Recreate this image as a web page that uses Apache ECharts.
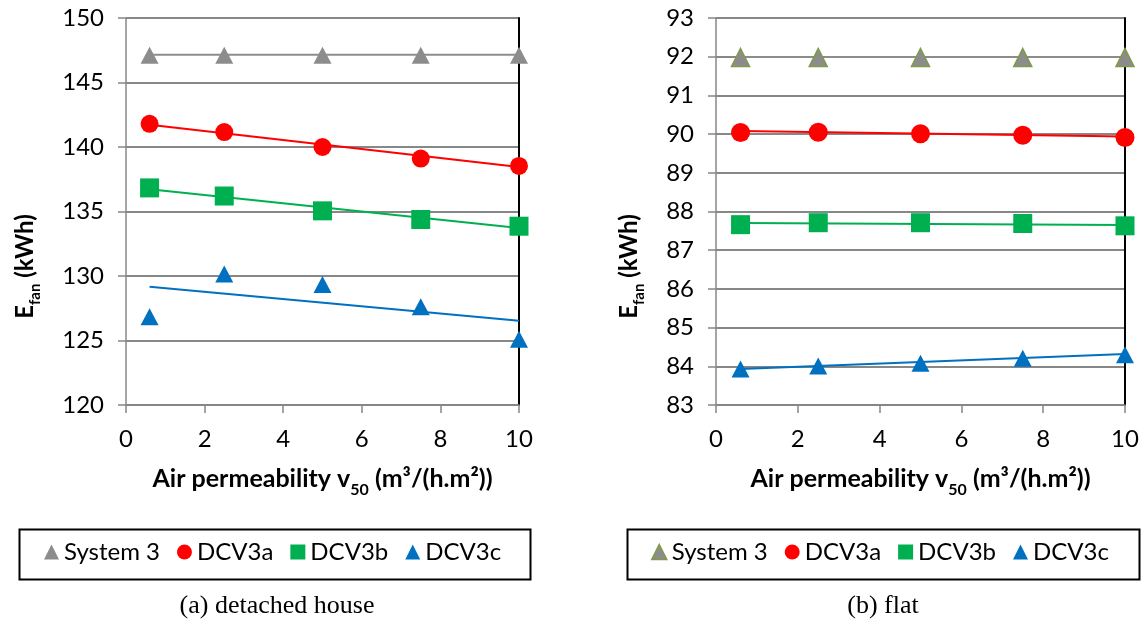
<!DOCTYPE html>
<html><head><meta charset="utf-8">
<script src="https://cdn.jsdelivr.net/npm/echarts@6/dist/echarts.min.js"></script>
<style>html,body{margin:0;padding:0;background:#fff}#c{width:1144px;height:628px}</style>
</head><body><div id="c"></div>
<script>
// ---- data ----
const xValues = [0.6, 2.5, 5, 7.5, 10];
const trendX = [0.6, 10];
const seriesNames = ['System 3', 'DCV3a', 'DCV3b', 'DCV3c'];
const xTickLabels = ['0', '2', '4', '6', '8', '10'];
const houseYTicks = ['120', '125', '130', '135', '140', '145', '150'];
const flatYTicks = ['83', '84', '85', '86', '87', '88', '89', '90', '91', '92', '93'];

// (a) detached house
const houseSystem3 = [147.12, 147.12, 147.12, 147.12, 147.12];
const houseDCV3a = [141.80, 141.16, 140.00, 139.10, 138.53];
const houseDCV3b = [136.83, 136.20, 135.05, 134.38, 133.86];
const houseDCV3c = [126.84, 130.15, 129.35, 127.62, 125.09];
const houseTrendSystem3 = [147.15, 147.15];
const houseTrendDCV3a = [141.73, 138.45];
const houseTrendDCV3b = [136.73, 133.73];
const houseTrendDCV3c = [129.17, 126.53];

// (b) flat
const flatSystem3 = [91.98, 91.98, 91.98, 91.98, 91.98];
const flatDCV3a = [90.04, 90.05, 90.01, 89.97, 89.91];
const flatDCV3b = [87.66, 87.71, 87.71, 87.69, 87.63];
const flatDCV3c = [83.93, 84.01, 84.08, 84.21, 84.30];
const flatTrendSystem3 = [91.99, 91.99];
const flatTrendDCV3a = [90.08, 89.94];
const flatTrendDCV3b = [87.70, 87.65];
const flatTrendDCV3c = [83.93, 84.32];

// ---- style ----
const FONT = 'Lato';
const GRAY = '#878787';
const C_SYS = '#8c8c8c', C_A = '#ff0000', C_B = '#00b050', C_C = '#0070c0';
const OLIVE = '#7f9a48';

const pts = arr => arr.map((v, i) => [xValues[i], v]);
const tr = arr => arr.map((v, i) => [trendX[i], v]);

function xAxisFor(gi) {
  return {
    type: 'value', gridIndex: gi, min: 0, max: 10, interval: 2,
    axisLine: {show: true, lineStyle: {color: GRAY, width: 1.5}},
    axisTick: {show: true, length: 8, lineStyle: {color: GRAY, width: 1.5}},
    splitLine: {show: false},
    axisLabel: {fontFamily: FONT, fontSize: 24, color: '#000', margin: 22,
      formatter: v => xTickLabels[Math.round(v / 2)]},
    name: '{b|Air permeability v}{s|50}{b| (m³/(h.m²))}',
    nameLocation: 'middle', nameGap: 61,
    nameTextStyle: {rich: {
      b: {fontFamily: FONT, fontSize: 25, fontWeight: 'bold', color: '#000', lineHeight: 30, verticalAlign: 'top'},
      s: {fontFamily: FONT, fontSize: 16, fontWeight: 'bold', color: '#000', lineHeight: 17, padding: [16, 0, 0, 0], verticalAlign: 'top'}
    }}
  };
}
function yAxisFor(gi, min, max, interval, ticks, nameGap) {
  return {
    type: 'value', gridIndex: gi, min, max, interval,
    axisLine: {show: true, lineStyle: {color: GRAY, width: 1.5}},
    axisTick: {show: true, length: 8, lineStyle: {color: GRAY, width: 1.5}},
    splitLine: {show: true, lineStyle: {color: GRAY, width: 2}},
    axisLabel: {fontFamily: FONT, fontSize: 24, color: '#000', margin: 22,
      formatter: v => ticks[Math.round((v - min) / interval)]},
    name: '{b|E}{s|fan}{b| (kWh)}',
    nameLocation: 'middle', nameGap: nameGap, nameRotate: 90,
    nameTextStyle: {padding: [0, 110, 0, 0], rich: {
      b: {fontFamily: FONT, fontSize: 24, fontWeight: 'bold', color: '#000', lineHeight: 28, verticalAlign: 'top'},
      s: {fontFamily: FONT, fontSize: 15, fontWeight: 'bold', color: '#000', lineHeight: 16, padding: [15, 0, 0, 0], verticalAlign: 'top'}
    }}
  };
}
function borderAxis(gi, min, max) {
  return {
    type: 'value', gridIndex: gi, min, max, position: 'right',
    axisLine: {show: true, lineStyle: {color: '#000', width: 2}},
    axisTick: {show: false}, axisLabel: {show: false}, splitLine: {show: false}
  };
}

function markerSeries(name, data, gi, symbol, size, color, border) {
  return {
    name, type: 'scatter', xAxisIndex: gi, yAxisIndex: gi * 2, data: pts(data),
    symbol, symbolSize: size, z: 5,
    itemStyle: Object.assign({color, opacity: 1}, border || {})
  };
}
function trendSeries(name, data, gi, color) {
  return {
    name: name + ' trend', type: 'line', xAxisIndex: gi, yAxisIndex: gi * 2, data: tr(data),
    symbol: 'none', z: 3, silent: true,
    lineStyle: {color, width: 2}
  };
}

const legendText = {fontFamily: FONT, fontSize: 24, color: '#000'};
function legendFor(left, sysBorder) {
  return {
    left, top: 540, padding: 0, itemGap: 17, itemWidth: 15, itemHeight: 15,
    textStyle: legendText, selectedMode: false,
    data: [
      {name: seriesNames[0], icon: 'triangle', itemStyle: Object.assign({color: C_SYS}, sysBorder || {borderWidth: 0})},
      {name: seriesNames[1], icon: 'circle', itemStyle: {color: C_A, borderWidth: 0}},
      {name: seriesNames[2], icon: 'rect', itemStyle: {color: C_B, borderWidth: 0}},
      {name: seriesNames[3], icon: 'triangle', itemStyle: {color: C_C, borderWidth: 0}}
    ]
  };
}

const olive = {borderColor: OLIVE, borderWidth: 1.5};

const option = {
  backgroundColor: '#fff',
  animation: false,
  grid: [
    {left: 126, right: 625, top: 18, bottom: 223},
    {left: 716, right: 19, top: 18, bottom: 223}
  ],
  xAxis: [xAxisFor(0), xAxisFor(1)],
  yAxis: [
    yAxisFor(0, 120, 150, 5, houseYTicks, 85), borderAxis(0, 120, 150),
    yAxisFor(1, 83, 93, 1, flatYTicks, 71), borderAxis(1, 83, 93)
  ],
  legend: [legendFor(44, null), legendFor(651, olive)],
  graphic: [
    {type: 'rect', left: 17, top: 527, shape: {width: 511, height: 50}, style: {fill: 'none', stroke: '#000', lineWidth: 2}, z: 0},
    {type: 'rect', left: 625, top: 527, shape: {width: 512, height: 50}, style: {fill: 'none', stroke: '#000', lineWidth: 2}, z: 0},
    {type: 'text', x: 277, y: 606, style: {text: '(a) detached house', font: '26px "Liberation Serif"', fill: '#000', textAlign: 'center', textVerticalAlign: 'middle'}},
    {type: 'text', x: 883, y: 606, style: {text: '(b) flat', font: '26px "Liberation Serif"', fill: '#000', textAlign: 'center', textVerticalAlign: 'middle'}}
  ],
  series: [
    trendSeries(seriesNames[0], houseTrendSystem3, 0, C_SYS),
    trendSeries(seriesNames[1], houseTrendDCV3a, 0, C_A),
    trendSeries(seriesNames[2], houseTrendDCV3b, 0, C_B),
    trendSeries(seriesNames[3], houseTrendDCV3c, 0, C_C),
    markerSeries(seriesNames[0], houseSystem3, 0, 'triangle', [18, 17], C_SYS),
    markerSeries(seriesNames[1], houseDCV3a, 0, 'circle', 18, C_A),
    markerSeries(seriesNames[2], houseDCV3b, 0, 'rect', 19, C_B),
    markerSeries(seriesNames[3], houseDCV3c, 0, 'triangle', [18, 17], C_C),
    trendSeries(seriesNames[0], flatTrendSystem3, 1, C_SYS),
    trendSeries(seriesNames[1], flatTrendDCV3a, 1, C_A),
    trendSeries(seriesNames[2], flatTrendDCV3b, 1, C_B),
    trendSeries(seriesNames[3], flatTrendDCV3c, 1, C_C),
    markerSeries(seriesNames[0], flatSystem3, 1, 'triangle', [18, 18], C_SYS, olive),
    markerSeries(seriesNames[1], flatDCV3a, 1, 'circle', 19, C_A),
    markerSeries(seriesNames[2], flatDCV3b, 1, 'rect', 19, C_B),
    markerSeries(seriesNames[3], flatDCV3c, 1, 'triangle', [18, 17], C_C)
  ]
};
const chart = echarts.init(document.getElementById('c'), null, {renderer: 'canvas'});
chart.setOption(option);
</script></body></html>
